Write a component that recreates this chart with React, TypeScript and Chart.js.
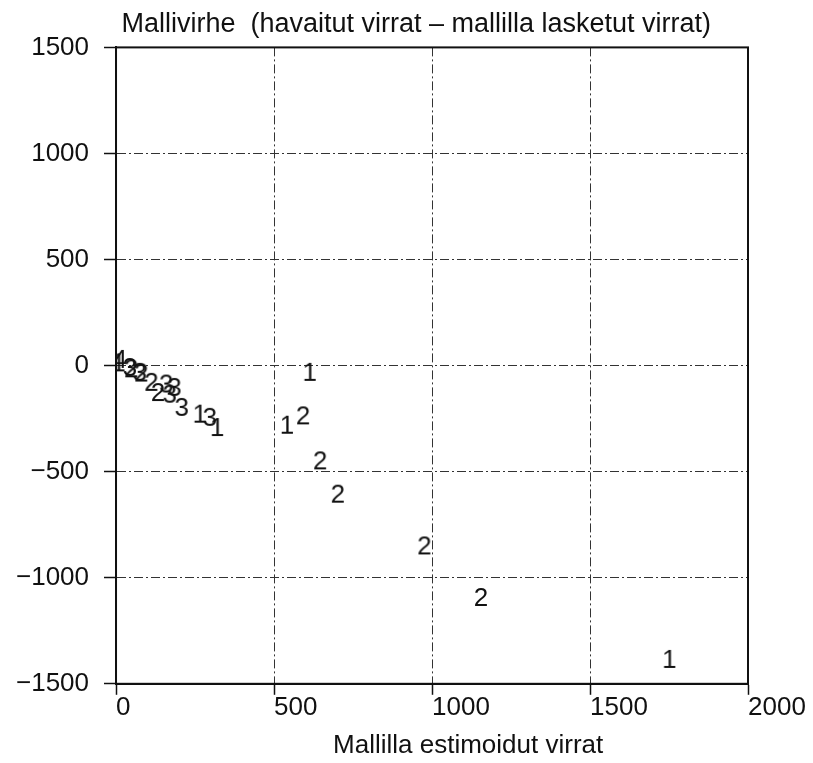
import React, { useEffect, useRef } from 'react';
import { Chart, registerables } from 'chart.js';

Chart.register(...registerables);

const TITLE = '\u2009Mallivirhe  (havaitut virrat \u2013 mallilla lasketut virrat)';
const X_TITLE = '\u00A0'.repeat(10) + 'Mallilla estimoidut virrat';
const X_TICKS = [0, 500, 1000, 1500, 2000];
const Y_TICKS = [-1500, -1000, -500, 0, 500, 1000, 1500];

const SERIES_NAMES = ['1', '2', '3', '4'];

const S1_X = [613, 541, 1751, 265, 320, 8];
const S1_Y = [-39, -288, -1392, -236, -299, 6];

const S2_X = [592, 646, 702, 976, 1155, 112, 133, 48, 80];
const S2_Y = [-244, -456, -613, -857, -1100, -86, -134, -22, -42];

const S3_X = [44, 75, 159, 185, 170, 208, 297];
const S3_Y = [-16, -39, -94, -110, -142, -204, -251];

const S4_X = [12];
const S4_Y = [22];

const FONT_FAMILY = "'Liberation Sans', Arial, Helvetica, sans-serif";
const INK = '#111111';

function digitImage(text: string): HTMLCanvasElement {
  const c = document.createElement('canvas');
  c.width = 22;
  c.height = 28;
  const g = c.getContext('2d')!;
  g.font = `26px ${FONT_FAMILY}`;
  g.fillStyle = INK;
  g.textAlign = 'center';
  g.textBaseline = 'middle';
  g.fillText(text, 11, 14);
  return c;
}

function toPoints(xs: number[], ys: number[]) {
  return xs.map((x, i) => ({ x, y: ys[i] }));
}

const framePlugin = {
  id: 'frame',
  afterDraw(chart: any) {
    const { ctx, chartArea } = chart;
    const { left, top, right, bottom } = chartArea;
    ctx.save();
    ctx.strokeStyle = INK;
    ctx.lineWidth = 2;
    ctx.setLineDash([]);
    ctx.strokeRect(left, top, right - left, bottom - top);
    ctx.restore();
  },
};

const bgPlugin = {
  id: 'bg',
  beforeDraw(chart: any) {
    const { ctx, width, height } = chart;
    ctx.save();
    ctx.fillStyle = '#ffffff';
    ctx.fillRect(0, 0, width, height);
    ctx.restore();
  },
};

export default function App() {
  const ref = useRef<HTMLCanvasElement | null>(null);

  useEffect(() => {
    if (!ref.current) return;
    const seriesData = [
      toPoints(S1_X, S1_Y),
      toPoints(S2_X, S2_Y),
      toPoints(S3_X, S3_Y),
      toPoints(S4_X, S4_Y),
    ];
    const datasets = SERIES_NAMES.map((name, i) => ({
      label: name,
      data: seriesData[i],
      showLine: false,
      pointStyle: digitImage(name) as any,
      pointRadius: 10,
    }));

    const tickFont = { family: FONT_FAMILY, size: 26, lineHeight: 1 };
    const gridColor = (edges: number[]) => (ctx: any) =>
      ctx.tick && edges.includes(ctx.tick.value) ? 'rgba(0,0,0,0)' : '#333';

    const chart = new Chart(ref.current, {
      type: 'scatter',
      data: { datasets },
      plugins: [bgPlugin, framePlugin],
      options: {
        animation: false,
        responsive: false,
        maintainAspectRatio: false,
        layout: { padding: { left: 1, right: 65, top: 0, bottom: 2 } },
        plugins: {
          legend: { display: false },
          tooltip: { enabled: false },
          title: {
            display: true,
            text: TITLE,
            align: 'start',
            fullSize: false,
            color: INK,
            font: { family: FONT_FAMILY, size: 27, weight: 'normal', lineHeight: 1.2 },
            padding: { top: 8, bottom: 7 },
          },
        },
        scales: {
          x: {
            type: 'linear',
            min: 0,
            max: 2000,
            afterBuildTicks: (s: any) => {
              s.ticks = X_TICKS.map((v) => ({ value: v }));
            },
            ticks: {
              align: 'start',
              padding: 0,
              maxRotation: 0,
              autoSkip: false,
              color: INK,
              font: tickFont,
              callback: (v: any) => String(v),
            },
            grid: {
              color: gridColor([0, 2000]),
              lineWidth: 1,
              tickLength: 11,
              tickColor: INK,
              tickWidth: 1.5,
            },
            border: { display: true, color: INK, width: 2, dash: [9, 3, 2, 3] },
            title: {
              display: true,
              text: X_TITLE,
              color: INK,
              font: { family: FONT_FAMILY, size: 26, lineHeight: 1.2 },
              padding: { top: 9, bottom: 0 },
            },
          },
          y: {
            type: 'linear',
            min: -1500,
            max: 1500,
            afterBuildTicks: (s: any) => {
              s.ticks = Y_TICKS.map((v) => ({ value: v }));
            },
            ticks: {
              padding: 15,
              color: INK,
              font: tickFont,
              callback: (v: any) => (v < 0 ? '\u2212' + Math.abs(v) : String(v)),
            },
            grid: {
              color: gridColor([-1500, 1500]),
              lineWidth: 1,
              tickLength: 12,
              tickColor: INK,
              tickWidth: 1.5,
            },
            border: { display: true, color: INK, width: 2, dash: [9, 3, 2, 3] },
          },
        },
      },
    } as any);

    return () => chart.destroy();
  }, []);

  return (
    <div style={{ position: 'absolute', left: 0, top: 0, width: 813, height: 763 }}>
      <canvas ref={ref} width={813} height={763} style={{ display: 'block' }} />
    </div>
  );
}
